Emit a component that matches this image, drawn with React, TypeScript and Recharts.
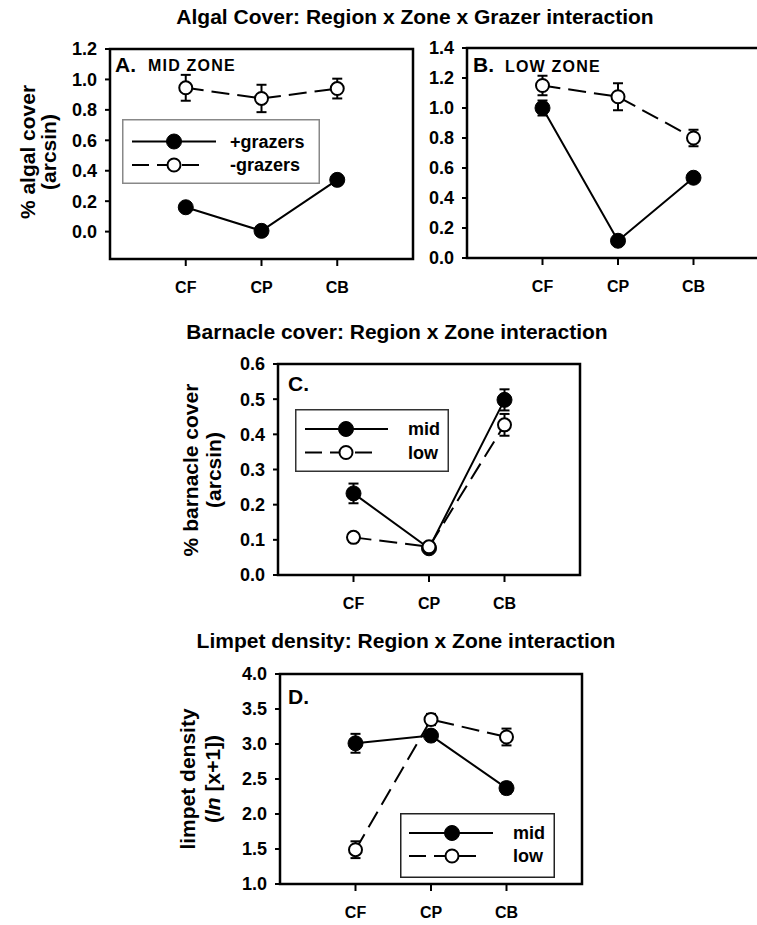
import React from "react";
import {
  LineChart,
  Line,
  XAxis,
  YAxis,
  ErrorBar,
  ReferenceArea,
  Legend,
} from "recharts";

const FONT = '"Liberation Sans", Arial, Helvetica, sans-serif';

const regions = ["CF", "CP", "CB"];
const regionX = [1, 2, 3];

// A. algal cover, mid zone (arcsin)
const midPlusGrazers = [0.16, 0.005, 0.34];
const midPlusGrazersSe = [0.025, 0.012, 0.02];
const midMinusGrazers = [0.945, 0.875, 0.94];
const midMinusGrazersSe = [0.085, 0.09, 0.065];
const algalMidTicks = [0, 0.2, 0.4, 0.6, 0.8, 1.0, 1.2];

// B. algal cover, low zone (arcsin)
const lowPlusGrazers = [1.0, 0.115, 0.535];
const lowPlusGrazersSe = [0.05, 0.02, 0.02];
const lowMinusGrazers = [1.15, 1.075, 0.8];
const lowMinusGrazersSe = [0.065, 0.09, 0.055];
const algalLowTicks = [0, 0.2, 0.4, 0.6, 0.8, 1.0, 1.2, 1.4];

// C. barnacle cover (arcsin)
const barnacleMid = [0.232, 0.076, 0.498];
const barnacleMidSe = [0.028, 0.01, 0.03];
const barnacleLow = [0.107, 0.08, 0.427];
const barnacleLowSe = [0.012, 0.008, 0.031];
const barnacleTicks = [0, 0.1, 0.2, 0.3, 0.4, 0.5, 0.6];

// D. limpet density ln(x+1)
const limpetMid = [3.01, 3.12, 2.37];
const limpetMidSe = [0.135, 0.05, 0.08];
const limpetLow = [1.49, 3.35, 3.1];
const limpetLowSe = [0.12, 0.08, 0.12];
const limpetTicks = [1.0, 1.5, 2.0, 2.5, 3.0, 3.5, 4.0];

const grazerNames = ["+grazers", "-grazers"];
const zoneNames = ["mid", "low"];

function rows(a: number[], aSe: number[], b: number[], bSe: number[]) {
  return regionX.map((x, i) => ({ x, a: a[i], aSe: aSe[i], b: b[i], bSe: bSe[i] }));
}

const PAD_L = 70;
const PAD_T = 10;
const PAD_R = 12;
const AXIS_H = 40;
const YAXIS_W = 50;

type Box = { x: number; y: number; w: number; h: number };
type LegendSpec = {
  x: number;
  y: number;
  w: number;
  h: number;
  rows: number[];
  line: number[];
  mark: number;
  text: number;
  border: string;
};

function LegendBox({ names, lg }: { names: string[]; lg: LegendSpec }) {
  return (
    <svg width={lg.w} height={lg.h} style={{ display: "block", overflow: "visible" }}>
      <rect
        x={0.75}
        y={0.75}
        width={lg.w - 1.5}
        height={lg.h - 1.5}
        fill="#fff"
        stroke={lg.border}
        strokeWidth={1.5}
      />
      {names.map((name, i) => {
        const y = lg.rows[i];
        const open = i === 1;
        return (
          <g key={name}>
            <line
              x1={lg.line[0]}
              x2={open ? lg.line[1] - 9 : lg.line[1]}
              y1={y}
              y2={y}
              stroke="#000"
              strokeWidth={2}
              strokeDasharray={open ? "17 8" : undefined}
            />
            <circle
              cx={lg.mark}
              cy={y}
              r={open ? 6.5 : 7.5}
              fill={open ? "#fff" : "#000"}
              stroke="#000"
              strokeWidth={open ? 2 : 1}
            />
            <text
              x={lg.text}
              y={y}
              dominantBaseline="central"
              fontSize={18}
              fontWeight={700}
              fill="#000"
            >
              {name}
            </text>
          </g>
        );
      })}
    </svg>
  );
}

function Panel({
  box,
  data,
  yDomain,
  yTicks,
  names,
  legend,
}: {
  box: Box;
  data: ReturnType<typeof rows>;
  yDomain: [number, number];
  yTicks: number[];
  names: string[];
  legend?: LegendSpec;
}) {
  return (
    <div style={{ position: "absolute", left: box.x - PAD_L, top: box.y - PAD_T }}>
      <LineChart
        width={box.w + PAD_L + PAD_R}
        height={box.h + PAD_T + AXIS_H}
        data={data}
        margin={{ top: PAD_T, right: PAD_R, bottom: 0, left: PAD_L - YAXIS_W }}
      >
        <XAxis
          dataKey="x"
          type="number"
          domain={[0, 4]}
          ticks={regionX}
          interval={0}
          tickFormatter={(v) => regions[v - 1]}
          axisLine={false}
          tickLine={{ stroke: "#000", strokeWidth: 2 }}
          tickSize={7}
          tickMargin={16}
          height={AXIS_H}
          tick={{ fill: "#000", fontSize: 16, fontWeight: 700 }}
        />
        <YAxis
          type="number"
          domain={yDomain}
          ticks={yTicks}
          interval={0}
          allowDataOverflow
          width={YAXIS_W}
          tickFormatter={(v) => v.toFixed(1)}
          axisLine={false}
          tickLine={{ stroke: "#000", strokeWidth: 2 }}
          tickSize={5}
          tickMargin={8}
          tick={{ fill: "#000", fontSize: 18, fontWeight: 700 }}
        />
        <ReferenceArea
          x1={0}
          x2={4}
          y1={yDomain[0]}
          y2={yDomain[1]}
          fill="none"
          stroke="#000"
          strokeWidth={2.5}
          ifOverflow="visible"
        />
        <Line
          type="linear"
          dataKey="a"
          name={names[0]}
          stroke="#000"
          strokeWidth={2}
          dot={{ r: 7.5, fill: "#000", stroke: "#000", strokeWidth: 1 }}
          activeDot={false}
          isAnimationActive={false}
        >
          <ErrorBar dataKey="aSe" direction="y" width={5} stroke="#000" strokeWidth={2} />
        </Line>
        <Line
          type="linear"
          dataKey="b"
          name={names[1]}
          stroke="#000"
          strokeWidth={2}
          strokeDasharray="18 8"
          dot={{ r: 6.5, fill: "#fff", stroke: "#000", strokeWidth: 2, strokeDasharray: "none" }}
          activeDot={false}
          isAnimationActive={false}
        >
          <ErrorBar
            dataKey="bSe"
            direction="y"
            width={5}
            stroke="#000"
            strokeWidth={2}
            strokeDasharray="none"
          />
        </Line>
        {legend && (
          <Legend
            layout="horizontal"
            verticalAlign="middle"
            align="center"
            wrapperStyle={{
              left: PAD_L + legend.x,
              top: PAD_T + legend.y,
              width: legend.w,
              height: legend.h,
            }}
            content={() => <LegendBox names={names} lg={legend} />}
          />
        )}
      </LineChart>
    </div>
  );
}

function AxisTitle({ x1, x2, y, lines }: { x1: number; x2: number; y: number; lines: React.ReactNode[] }) {
  return (
    <g fontSize={21} fontWeight={700} fill="#000">
      <text transform={`translate(${x1},${y}) rotate(-90)`} textAnchor="middle" dominantBaseline="central">
        {lines[0]}
      </text>
      <text transform={`translate(${x2},${y}) rotate(-90)`} textAnchor="middle" dominantBaseline="central">
        {lines[1]}
      </text>
    </g>
  );
}

export default function App() {
  return (
    <div
      style={{
        position: "absolute",
        left: 0,
        top: 0,
        width: 757,
        height: 925,
        overflow: "hidden",
        background: "#fff",
        fontFamily: FONT,
      }}
    >
      <Panel
        box={{ x: 110, y: 49, w: 303, h: 210 }}
        data={rows(midPlusGrazers, midPlusGrazersSe, midMinusGrazers, midMinusGrazersSe)}
        yDomain={[-0.18, 1.2]}
        yTicks={algalMidTicks}
        names={grazerNames}
        legend={{ x: 12, y: 70, w: 198, h: 65, rows: [22.5, 46], line: [10, 94], mark: 52, text: 108, border: "#888" }}
      />
      <Panel
        box={{ x: 467, y: 48, w: 302, h: 210 }}
        data={rows(lowPlusGrazers, lowPlusGrazersSe, lowMinusGrazers, lowMinusGrazersSe)}
        yDomain={[0, 1.4]}
        yTicks={algalLowTicks}
        names={grazerNames}
      />
      <Panel
        box={{ x: 278, y: 364, w: 302, h: 211 }}
        data={rows(barnacleMid, barnacleMidSe, barnacleLow, barnacleLowSe)}
        yDomain={[0, 0.6]}
        yTicks={barnacleTicks}
        names={zoneNames}
        legend={{ x: 17, y: 45, w: 154, h: 63, rows: [20, 43.5], line: [10, 93], mark: 51, text: 113, border: "#333" }}
      />
      <Panel
        box={{ x: 280, y: 674, w: 302, h: 210 }}
        data={rows(limpetMid, limpetMidSe, limpetLow, limpetLowSe)}
        yDomain={[1, 4]}
        yTicks={limpetTicks}
        names={zoneNames}
        legend={{ x: 120, y: 139, w: 155, h: 65, rows: [20, 43], line: [9, 93], mark: 52, text: 113, border: "#222" }}
      />

      <svg
        width={757}
        height={925}
        style={{ position: "absolute", left: 0, top: 0, pointerEvents: "none" }}
      >
        <g fontSize={21} fontWeight={700} fill="#000" textAnchor="middle">
          <text x={415} y={23.5}>Algal Cover: Region x Zone x Grazer interaction</text>
          <text x={397} y={338.5}>Barnacle cover: Region x Zone interaction</text>
          <text x={406} y={648}>Limpet density: Region x Zone interaction</text>
        </g>

        <AxisTitle x1={27} x2={48} y={152} lines={["% algal cover", "(arcsin)"]} />
        <AxisTitle x1={190} x2={213} y={470} lines={["% barnacle cover", "(arcsin)"]} />
        <AxisTitle
          x1={187}
          x2={212}
          y={779}
          lines={[
            "limpet density",
            <>
              (<tspan fontStyle="italic">ln</tspan> [x+1])
            </>,
          ]}
        />

        <g fontWeight={700} fill="#000">
          <text x={115} y={72} fontSize={21}>A.</text>
          <text x={148} y={71} fontSize={16} letterSpacing={1.2}>MID ZONE</text>
          <text x={473} y={72} fontSize={21}>B.</text>
          <text x={505} y={71.5} fontSize={16} letterSpacing={1.2}>LOW ZONE</text>
          <text x={288} y={391} fontSize={21}>C.</text>
          <text x={288} y={704} fontSize={21}>D.</text>
        </g>
      </svg>
    </div>
  );
}
